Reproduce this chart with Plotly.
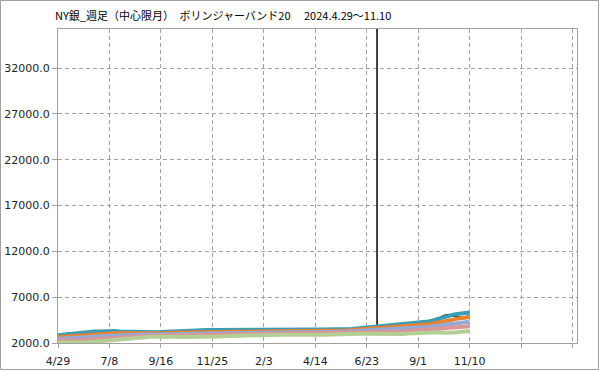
import pandas as pd
import plotly.graph_objects as go

# weekly dates (categories)
weeks = list(pd.date_range("2024-04-29", periods=81, freq="7D"))
tick_dates = pd.date_range("2024-04-29", periods=11, freq="70D")
tick_labels = ["4/29", "7/8", "9/16", "11/25", "2/3", "4/14", "6/23", "9/1", "11/10", "", ""]
y_ticks = [2000, 7000, 12000, 17000, 22000, 27000, 32000]

# weekly close (black, mostly hidden under the bands)
price = [2660, 2820, 3140, 3040, 3060, 2960, 2960, 2960, 2920, 3150,
         3090, 2910, 2790, 2850, 2750, 2860, 2990, 2880, 2800, 3080,
         3120, 3170, 3230, 3160, 3380, 3370, 3270, 3130, 3040, 3130,
         3070, 3110, 3060, 2950, 2980, 2960, 3110, 3050, 3130, 3150,
         3230, 3260, 3320, 3150, 3260, 3420, 3350, 3480, 2960, 3130,
         3260, 3350, 3260, 3290, 3250, 3350, 3300, 3610, 3640, 3610,
         3610, 3700, 3840, 3830, 3930, 3700, 3830, 3800, 3900, 4100,
         4150, 4240, 4300, 4650, 4760, 5030, 5140, 4870, 4860, 4830,
         5070]
# bad tick in the price data: week index and its (off-chart) value
spike_week = 62
spike_value = 40000

# Bollinger band 20 (+2σ, +1σ, mid, -1σ, -2σ)
upper2 = [2848, 2907, 3015, 3092, 3159, 3206, 3227, 3247, 3267, 3298,
          3304, 3298, 3266, 3242, 3206, 3180, 3177, 3169, 3160, 3174,
          3199, 3234, 3263, 3285, 3337, 3383, 3407, 3415, 3419, 3420,
          3419, 3419, 3417, 3402, 3399, 3384, 3376, 3369, 3369, 3365,
          3366, 3369, 3377, 3373, 3361, 3379, 3387, 3431, 3447, 3447,
          3466, 3474, 3472, 3475, 3475, 3486, 3488, 3536, 3591, 3644,
          3689, 3745, 3811, 3885, 3959, 3981, 4017, 4037, 4080, 4138,
          4195, 4257, 4339, 4467, 4623, 4829, 5029, 5122, 5183, 5244,
          5333]
upper1 = [2653, 2692, 2765, 2822, 2874, 2915, 2942, 2969, 2997, 3033,
          3056, 3068, 3061, 3057, 3046, 3042, 3047, 3044, 3038, 3054,
          3078, 3104, 3121, 3135, 3169, 3202, 3222, 3230, 3235, 3235,
          3234, 3239, 3245, 3240, 3244, 3239, 3238, 3239, 3247, 3247,
          3250, 3254, 3260, 3258, 3249, 3259, 3265, 3296, 3302, 3302,
          3316, 3326, 3330, 3340, 3347, 3362, 3368, 3406, 3446, 3484,
          3516, 3555, 3601, 3655, 3709, 3727, 3757, 3775, 3820, 3873,
          3924, 3977, 4044, 4142, 4258, 4403, 4549, 4627, 4688, 4749,
          4830]
middle = [2458, 2477, 2515, 2552, 2589, 2624, 2657, 2691, 2727, 2768,
          2808, 2838, 2856, 2872, 2886, 2904, 2917, 2919, 2916, 2934,
          2957, 2974, 2979, 2985, 3001, 3021, 3037, 3045, 3051, 3050,
          3049, 3059, 3073, 3078, 3089, 3094, 3100, 3109, 3125, 3129,
          3134, 3139, 3143, 3143, 3137, 3139, 3143, 3161, 3157, 3157,
          3166, 3178, 3188, 3205, 3219, 3238, 3248, 3276, 3301, 3324,
          3343, 3365, 3391, 3425, 3459, 3473, 3497, 3513, 3560, 3608,
          3653, 3697, 3749, 3817, 3893, 3977, 4069, 4132, 4193, 4254,
          4327]
lower1 = [2263, 2262, 2265, 2282, 2304, 2333, 2372, 2413, 2457, 2503,
          2560, 2608, 2651, 2687, 2726, 2766, 2787, 2794, 2794, 2814,
          2836, 2844, 2837, 2835, 2833, 2840, 2852, 2860, 2867, 2865,
          2864, 2879, 2901, 2916, 2934, 2949, 2962, 2979, 3003, 3011,
          3018, 3024, 3026, 3028, 3025, 3019, 3021, 3026, 3012, 3012,
          3016, 3030, 3046, 3070, 3091, 3114, 3128, 3146, 3156, 3164,
          3170, 3175, 3181, 3195, 3209, 3219, 3237, 3251, 3300, 3343,
          3382, 3417, 3454, 3492, 3528, 3551, 3589, 3637, 3698, 3759,
          3824]
lower2 = [2068, 2047, 2015, 2012, 2019, 2042, 2087, 2135, 2187, 2238,
          2312, 2378, 2446, 2502, 2566, 2628, 2657, 2669, 2672, 2694,
          2715, 2714, 2695, 2685, 2665, 2659, 2667, 2675, 2683, 2680,
          2679, 2699, 2729, 2754, 2779, 2804, 2824, 2849, 2881, 2893,
          2902, 2909, 2909, 2913, 2913, 2899, 2899, 2891, 2867, 2867,
          2866, 2882, 2904, 2935, 2963, 2990, 3008, 3016, 3011, 3004,
          2997, 2985, 2971, 2965, 2959, 2965, 2977, 2989, 3040, 3078,
          3111, 3137, 3159, 3167, 3163, 3125, 3109, 3142, 3203, 3264,
          3321]

# price path with the bad tick as a vertical excursion at its week
px_x = weeks[:spike_week + 1] + [weeks[spike_week], weeks[spike_week]] + weeks[spike_week + 1:]
px_y = price[:spike_week + 1] + [spike_value, price[spike_week]] + price[spike_week + 1:]

fig = go.Figure()
fig.add_trace(go.Scatter(x=px_x, y=px_y, mode="lines",
                         line=dict(color="#000000", width=1)))
bands = [(upper2, "#3a9db6"), (upper1, "#e8822e"), (middle, "#93a9d7"),
         (lower1, "#d99598"), (lower2, "#b3cf93")]
for vals, col in bands:
    fig.add_trace(go.Scatter(x=weeks, y=vals, mode="lines",
                             line=dict(color=col, width=4)))

axis_col = "#a0a0a0"
L, R, T, B = 58, 22, 29, 27
W, H = 599 - L - R, 370 - T - B
fig.update_layout(
    width=599, height=370,
    margin=dict(l=L, r=R, t=T, b=B),
    paper_bgcolor="white", plot_bgcolor="white",
    showlegend=False, hovermode=False,
    font=dict(family="DejaVu Sans", size=11, color="#222222"),
    title=dict(text="NY銀_週足（中心限月）　ボリンジャーバンド20　 2024.4.29～11.10",
               font=dict(family="Noto Sans CJK JP", size=11, color="#000000"),
               xref="container", yref="container",
               x=55 / 599, xanchor="left", y=1 - 16 / 370, yanchor="middle"),
    shapes=[dict(type="rect", xref="paper", yref="paper",
                 x0=(0.5 - L) / W, x1=(598.5 - L) / W,
                 y0=(T + H - 369.5) / H, y1=(T + H - 0.5) / H,
                 line=dict(color=axis_col, width=1), layer="below")],
)
fig.update_xaxes(
    automargin=False,
    range=["2024-04-29", "2026-04-05"],
    tickvals=list(tick_dates), ticktext=tick_labels,
    showgrid=True, gridcolor=axis_col, griddash="4px,3px", gridwidth=1,
    showline=True, linecolor=axis_col, linewidth=1, mirror=True,
    ticks="outside", ticklen=4, tickcolor=axis_col, ticklabelstandoff=4,
    zeroline=False,
)
fig.update_yaxes(
    automargin=False,
    range=[2000, 36257],
    tickvals=y_ticks, tickformat=".1f",
    showgrid=True, gridcolor=axis_col, griddash="4px,3px", gridwidth=1,
    showline=True, linecolor=axis_col, linewidth=1, mirror=True,
    ticks="outside", ticklen=5, tickcolor=axis_col,
    zeroline=False,
)
fig.write_html("out.html")
